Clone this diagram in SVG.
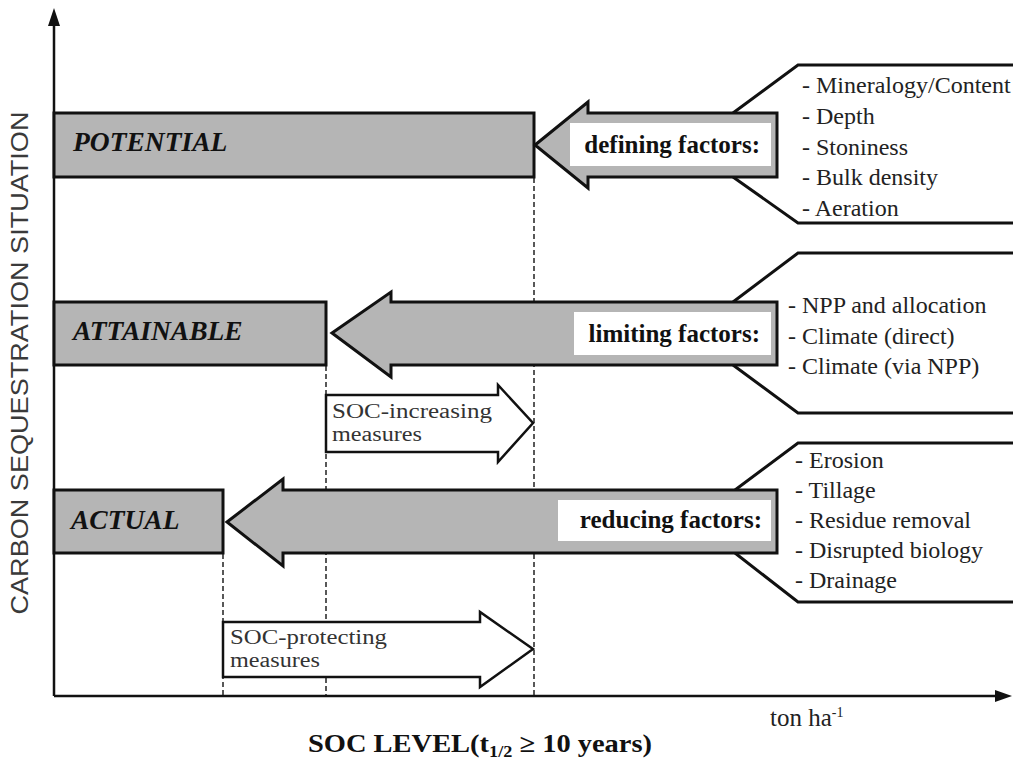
<svg xmlns="http://www.w3.org/2000/svg" width="1013" height="764" viewBox="0 0 1013 764">
<defs>
<style>
.bar{fill:#b5b5b5;stroke:#111;stroke-width:3}
.arr{fill:#b5b5b5;stroke:#111;stroke-width:3;stroke-linejoin:miter}
.brk{fill:#fff;stroke:#111;stroke-width:3}
.win{fill:#fff;stroke:none}
.mes{fill:#fff;stroke:#111;stroke-width:2.5}
.dash{stroke:#222;stroke-width:1.5;stroke-dasharray:5 3;fill:none}
.axis{stroke:#111;stroke-width:2.5;fill:none}
.lab{font-family:"Liberation Serif",serif;font-weight:bold;font-style:italic;font-size:27.5px;fill:#111}
.fac{font-family:"Liberation Serif",serif;font-weight:bold;font-size:25px;fill:#111;text-anchor:end}
.lst{font-family:"Liberation Serif",serif;font-size:24px;fill:#222}
.ms{font-family:"Liberation Serif",serif;font-size:20.5px;fill:#333}
</style>
</defs>
<rect width="1013" height="764" fill="#fff"/>

<g id="axes">
<line class="axis" x1="54" y1="696" x2="54" y2="20"/>
<polygon points="54,8 48,26 60,26" fill="#111"/>
<line class="axis" x1="54" y1="696" x2="1000" y2="696"/>
<polygon points="1012,696 995,690 995,702" fill="#111"/>
<text x="28" y="363" transform="rotate(-90 28 363)" text-anchor="middle" font-family="'Liberation Sans',Arial,sans-serif" font-size="24" fill="#3a3a3a" textLength="503" lengthAdjust="spacingAndGlyphs">CARBON SEQUESTRATION SITUATION</text>
<text x="770" y="726" font-family="'Liberation Serif',serif" font-size="25" fill="#222">ton ha<tspan font-size="14" dy="-9">-1</tspan></text>
<text x="308" y="752" font-family="'Liberation Serif',serif" font-weight="bold" font-size="25" fill="#111" textLength="344" lengthAdjust="spacingAndGlyphs">SOC LEVEL(t<tspan font-size="16" dy="5">1/2</tspan><tspan dy="-5"> ≥ 10 years)</tspan></text>
</g>

<g id="guides">
<line class="dash" x1="534" y1="178" x2="534" y2="695"/>
<line class="dash" x1="326" y1="366" x2="326" y2="695"/>
<line class="dash" x1="223" y1="554" x2="223" y2="695"/>
</g>

<g id="bracket-defining">
<path class="brk" d="M733,113 L798,65 L1025,65 L1025,223 L798,223 L733,177"/>
<text class="lst" x="802" y="93">- Mineralogy/Content</text>
<text class="lst" x="802" y="124">- Depth</text>
<text class="lst" x="802" y="155">- Stoniness</text>
<text class="lst" x="802" y="185">- Bulk density</text>
<text class="lst" x="802" y="216">- Aeration</text>
</g>
<g id="bracket-limiting">
<path class="brk" d="M733,302 L798,253 L1025,253 L1025,413 L798,413 L733,365"/>
<text class="lst" x="788" y="313">- NPP and allocation</text>
<text class="lst" x="788" y="344">- Climate (direct)</text>
<text class="lst" x="788" y="374">- Climate (via NPP)</text>
</g>
<g id="bracket-reducing">
<path class="brk" d="M735,490 L798,443 L1025,443 L1025,602 L798,602 L735,553"/>
<text class="lst" x="795" y="468">- Erosion</text>
<text class="lst" x="795" y="498">- Tillage</text>
<text class="lst" x="795" y="528">- Residue removal</text>
<text class="lst" x="795" y="558">- Disrupted biology</text>
<text class="lst" x="795" y="588">- Drainage</text>
</g>

<g id="potential">
<rect class="bar" x="54" y="113" width="480" height="64"/>
<text class="lab" x="73" y="151">POTENTIAL</text>
</g>
<g id="attainable">
<rect class="bar" x="54" y="302" width="272" height="63"/>
<text class="lab" x="73" y="340">ATTAINABLE</text>
</g>
<g id="actual">
<rect class="bar" x="54" y="490" width="169" height="63"/>
<text class="lab" x="71" y="529">ACTUAL</text>
</g>

<g id="defining-arrow">
<path class="arr" d="M535,145 L588,102 L588,113 L777,113 L777,177 L588,177 L588,188 Z"/>
<rect class="win" x="570" y="123" width="201" height="43"/>
<text class="fac" x="760" y="153">defining factors:</text>
</g>
<g id="limiting-arrow">
<path class="arr" d="M332,333 L391,292 L391,302 L777,302 L777,365 L391,365 L391,377 Z"/>
<rect class="win" x="574" y="312" width="197" height="43"/>
<text class="fac" x="760" y="342">limiting factors:</text>
</g>
<g id="reducing-arrow">
<path class="arr" d="M227,522 L283,479 L283,490 L777,490 L777,553 L283,553 L283,566 Z"/>
<rect class="win" x="558" y="500" width="213" height="41"/>
<text class="fac" x="762" y="528">reducing factors:</text>
</g>

<g id="soc-increasing">
<path class="mes" d="M326,395 L498,395 L498,385 L533,423 L498,462 L498,452 L326,452 Z"/>
<text class="ms" x="332" y="418" textLength="160" lengthAdjust="spacingAndGlyphs">SOC-increasing</text>
<text class="ms" x="332" y="441" textLength="90" lengthAdjust="spacingAndGlyphs">measures</text>
</g>
<g id="soc-protecting">
<path class="mes" d="M223,622 L480,622 L480,612 L533,649 L480,687 L480,677 L223,677 Z"/>
<text class="ms" x="230" y="644" textLength="157" lengthAdjust="spacingAndGlyphs">SOC-protecting</text>
<text class="ms" x="230" y="667" textLength="90" lengthAdjust="spacingAndGlyphs">measures</text>
</g>
</svg>
